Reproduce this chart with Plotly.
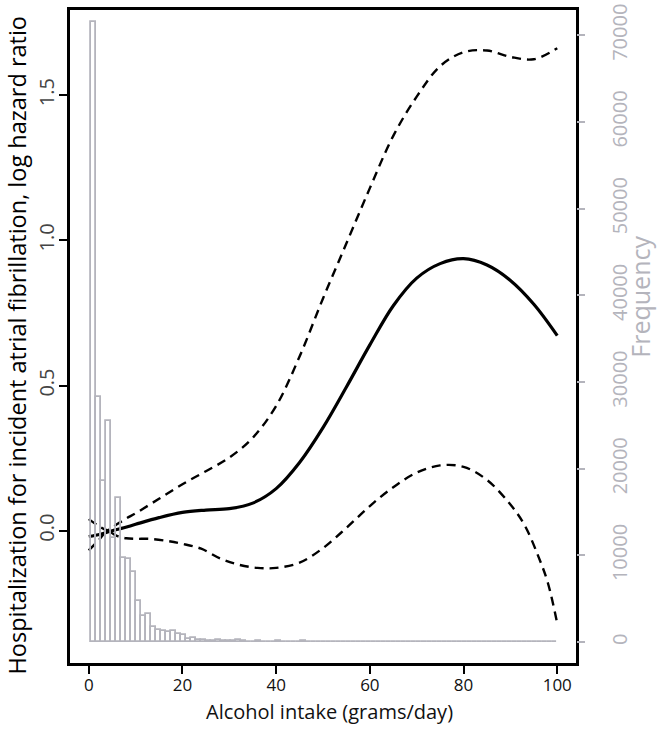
import plotly.graph_objects as go

# ---------------- data ----------------
# histogram of alcohol intake (counts per bin)
hist_freq = [
    71500, 28300, 18600, 25500, 12000, 16600, 9700, 9600, 8100, 4800,
    3000, 3200, 1700, 1450, 1300, 1150, 1300, 900, 800, 420,
    530, 230, 200, 120, 160, 260, 140, 100, 130, 240,
    110, 80, 60, 90, 60, 50, 70, 140, 60, 40,
    50, 40, 90, 40, 30, 40, 70, 30, 30, 25,
    30, 25, 30, 25, 30, 25, 30, 25, 30, 25,
    30, 25, 30, 25, 30, 25, 30, 25, 30, 25,
    30, 25, 30, 25, 30, 25, 30, 25, 30, 25,
    30, 25, 30, 25, 30, 25, 30, 25, 30, 25,
    30, 25, 30,
]
bin_start = 0.4
bin_width = 1.07

# spline estimate (log hazard ratio) and 95% CI
est_x = [0, 2.5, 5, 7.5, 10, 15, 20, 25, 30, 35, 40, 45, 50, 55, 60, 65, 70, 75, 80, 85, 90, 95, 100]
est_y = [-0.020, -0.012, 0.000, 0.010, 0.022, 0.045, 0.063, 0.071, 0.076, 0.095, 0.145, 0.235,
         0.355, 0.495, 0.640, 0.775, 0.870, 0.920, 0.937, 0.915, 0.862, 0.780, 0.672]

upper_x = [0, 2, 4, 6, 8, 10, 15, 20, 25, 30, 35, 40, 45, 50, 55, 60, 65, 70, 75, 80, 85, 90, 95, 100]
upper_y = [0.040, 0.018, 0.002, 0.022, 0.042, 0.060, 0.110, 0.160, 0.205, 0.252, 0.320, 0.430, 0.600,
           0.800, 0.990, 1.180, 1.360, 1.495, 1.600, 1.648, 1.654, 1.632, 1.624, 1.662]

lower_x = [0, 2, 4, 6, 8, 10, 13, 17, 20, 24, 28, 32, 36, 40, 45, 50, 55, 60, 65, 70, 75, 80, 85, 90, 93, 96, 98, 100]
lower_y = [-0.068, -0.035, -0.003, -0.018, -0.026, -0.028, -0.028, -0.036, -0.045, -0.062, -0.095,
           -0.117, -0.128, -0.128, -0.110, -0.060, 0.010, 0.085, 0.150, 0.200, 0.225, 0.220, 0.175,
           0.090, 0.020, -0.090, -0.180, -0.320]

x_ticks = [0, 20, 40, 60, 80, 100]
y_ticks = [0.0, 0.5, 1.0, 1.5]
y_ticktext = ["0.0", "0.5", "1.0", "1.5"]
freq_ticks = [0, 10000, 20000, 30000, 40000, 50000, 60000, 70000]
freq_ticktext = ["0", "10000", "20000", "30000", "40000", "50000", "60000", "70000"]

x_title = "Alcohol intake (grams/day)"
y_title = "Hospitalization for incident atrial fibrillation, log hazard ratio"
y2_title = "Frequency"

# ---------------- figure ----------------
GRAY = "#b4b4bc"
FONT = "Open Sans"

bin_centers = [bin_start + bin_width * (i + 0.5) for i in range(len(hist_freq))]

fig = go.Figure()

fig.add_trace(go.Scatter(x=est_x, y=est_y, mode="lines", line=dict(color="black", width=3.2, shape="spline", smoothing=1.0),
                         hoverinfo="skip"))
fig.add_trace(go.Scatter(x=upper_x, y=upper_y, mode="lines",
                         line=dict(color="black", width=2.4, dash="9px,6px", shape="spline", smoothing=1.0),
                         hoverinfo="skip"))
fig.add_trace(go.Scatter(x=lower_x, y=lower_y, mode="lines",
                         line=dict(color="black", width=2.4, dash="9px,6px", shape="spline", smoothing=1.0),
                         hoverinfo="skip"))
fig.add_trace(go.Bar(x=bin_centers, y=hist_freq, width=bin_width, yaxis="y2",
                     marker=dict(color="rgba(0,0,0,0)", line=dict(color=GRAY, width=1.8)),
                     hoverinfo="skip"))

fig.update_layout(
    width=661, height=732,
    margin=dict(l=70, r=85, t=4, b=69),
    paper_bgcolor="white", plot_bgcolor="white",
    showlegend=False,
    font=dict(family=FONT, size=18, color="black"),
    bargap=0,
    xaxis=dict(range=[-4, 104], tickvals=x_ticks, ticks="outside", ticklen=8, tickwidth=2, tickcolor="black",
               showline=True, mirror=True, linecolor="black", linewidth=2.5, ticklabelstandoff=-3,
               showgrid=False, zeroline=False, tickfont=dict(size=17, color="#111")),
    yaxis=dict(range=[-0.4556, 1.7935], tickvals=y_ticks, ticktext=y_ticktext, ticks="outside", ticklen=8,
               tickwidth=2, tickcolor="black", tickangle=-90, ticklabelstandoff=-3,
               showline=True, mirror=True, linecolor="black", linewidth=2.5,
               showgrid=False, zeroline=False, tickfont=dict(size=20, color="#444")),
    yaxis2=dict(overlaying="y", side="right", range=[-2400, 72914], tickvals=freq_ticks, ticktext=freq_ticktext,
                ticks="outside", ticklen=8, tickwidth=2, tickcolor=GRAY, tickangle=-90, ticklabelstandoff=18,
                showline=False, showgrid=False, zeroline=False, tickfont=dict(size=20, color=GRAY)),
    annotations=[
        dict(text=x_title, xref="paper", yref="paper", x=0.512, y=-0.0743, showarrow=False,
             xanchor="center", yanchor="middle", font=dict(size=20, color="#111")),
        dict(text=y_title, xref="paper", yref="paper", x=-0.1057, y=0.487, showarrow=False, textangle=-90,
             xanchor="center", yanchor="middle", font=dict(size=23.5, color="black")),
        dict(text=y2_title, xref="paper", yref="paper", x=1.1265, y=0.561, showarrow=False, textangle=-90,
             xanchor="center", yanchor="middle", font=dict(size=25, color=GRAY)),
    ],
)

fig.write_html("out.html", config={"displayModeBar": False},
               post_script="document.body.style.margin='0';document.body.style.overflow='hidden';")
